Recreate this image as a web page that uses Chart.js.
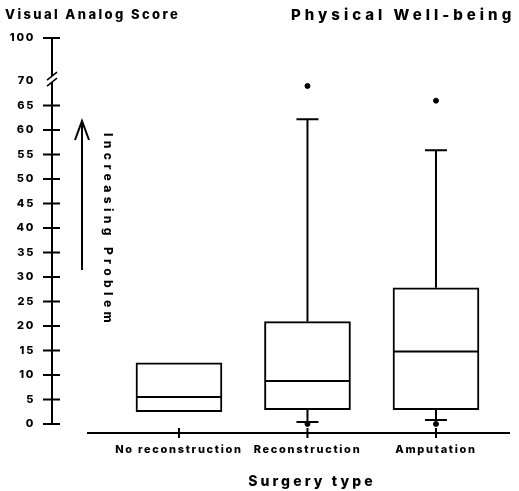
<!DOCTYPE html>
<html><head><meta charset="utf-8">
<script src="https://cdn.jsdelivr.net/npm/chart.js@4"></script>
<style>html,body{margin:0;padding:0;background:#fff;overflow:hidden}</style>
</head><body>
<canvas id="c" width="519" height="491"></canvas>
<script>
// ---- data ----
const CATEGORIES = ['No reconstruction', 'Reconstruction', 'Amputation'];
const Q1 = [2.5, 2.9, 2.9];
const MEDIAN = [5.5, 8.8, 14.8];
const Q3 = [12.5, 20.9, 27.8];
const WHISKER_LOW = [null, 0.4, 0.8];
const WHISKER_HIGH = [null, 62.2, 55.9];
const OUTLIERS = [[], [69, 0], [66, 0]];
const Y_TICKS = [0, 5, 10, 15, 20, 25, 30, 35, 40, 45, 50, 55, 60, 65, 70, 100];
const Y_BREAK = 70;
const Y_MAX = 100;
const BREAK_RATIO = 0.293; // compression of 70-100 segment

const disp = v => v <= Y_BREAK ? v : Y_BREAK + (v - Y_BREAK) * BREAK_RATIO;
const FONT = "Inter, 'Liberation Sans', Arial, sans-serif";
const W = '800';

const boxData = CATEGORIES.map((c, i) => ({x: i, y: [Q1[i], Q3[i]]}));
const outlierData = [];
OUTLIERS.forEach((arr, i) => arr.forEach(v => outlierData.push({x: i, y: disp(v)})));

function spacedText(ctx, text, x, y, spacing) {
  ctx.letterSpacing = spacing + 'px';
  ctx.fillText(text, x, y);
}

const decor = {
  id: 'decor',
  beforeDraw(chart) { chart.ctx.letterSpacing = '1.7px'; },
  afterDatasetsDraw(chart) {
    const {ctx, scales: {x, y}} = chart;
    ctx.save();
    ctx.strokeStyle = '#000';
    ctx.lineWidth = 2;
    CATEGORIES.forEach((c, i) => {
      const cx = x.getPixelForValue(i);
      const half = 42;
      const my = y.getPixelForValue(MEDIAN[i]);
      ctx.beginPath(); ctx.moveTo(cx - half, my); ctx.lineTo(cx + half, my); ctx.stroke();
      const cap = 11;
      if (WHISKER_HIGH[i] != null) {
        const t = y.getPixelForValue(Q3[i]), w = y.getPixelForValue(WHISKER_HIGH[i]);
        ctx.beginPath(); ctx.moveTo(cx, t); ctx.lineTo(cx, w);
        ctx.moveTo(cx - cap, w); ctx.lineTo(cx + cap, w); ctx.stroke();
      }
      if (WHISKER_LOW[i] != null) {
        const b = y.getPixelForValue(Q1[i]), w = y.getPixelForValue(WHISKER_LOW[i]);
        ctx.beginPath(); ctx.moveTo(cx, b); ctx.lineTo(cx, w);
        ctx.moveTo(cx - cap, w); ctx.lineTo(cx + cap, w); ctx.stroke();
      }
    });
    ctx.restore();
  },
  afterDraw(chart) {
    const {ctx, chartArea, scales: {x, y}} = chart;
    ctx.save();
    ctx.strokeStyle = '#000';
    ctx.fillStyle = '#000';
    ctx.lineWidth = 2;
    const ax = chartArea.left;
    const yTop = y.getPixelForValue(disp(Y_MAX));
    const y0 = y.getPixelForValue(0);
    const yb = y.getPixelForValue(disp(Y_BREAK)) - 2;
    ctx.beginPath();
    ctx.moveTo(ax, yTop); ctx.lineTo(ax, yb - 3);
    ctx.moveTo(ax, yb + 3); ctx.lineTo(ax, y0);
    ctx.stroke();
    ctx.lineWidth = 1.5;
    ctx.beginPath();
    ctx.moveTo(ax - 5, yb + 1); ctx.lineTo(ax + 5, yb - 7);
    ctx.moveTo(ax - 5, yb + 7); ctx.lineTo(ax + 5, yb - 1);
    ctx.stroke();
    ctx.lineWidth = 2;
    ctx.beginPath();
    Y_TICKS.forEach(v => {
      if (v === Y_BREAK) return;
      const py = y.getPixelForValue(disp(v));
      ctx.moveTo(ax - 9, py); ctx.lineTo(ax + 8, py);
    });
    ctx.stroke();
    const bx = chartArea.bottom;
    ctx.beginPath();
    ctx.moveTo(chartArea.left + 35, bx); ctx.lineTo(chartArea.right, bx);
    CATEGORIES.forEach((c, i) => {
      const px = x.getPixelForValue(i);
      ctx.moveTo(px, bx - 5); ctx.lineTo(px, bx + 5);
    });
    ctx.stroke();
    // arrow
    ctx.beginPath();
    ctx.moveTo(82, 270); ctx.lineTo(82, 121);
    ctx.moveTo(75, 140); ctx.lineTo(82, 121); ctx.lineTo(89, 140);
    ctx.stroke();
    // titles
    ctx.textBaseline = 'alphabetic';
    ctx.textAlign = 'left';
    ctx.font = W + ' 13px ' + FONT;
    spacedText(ctx, 'Visual Analog Score', 5, 19, 2.4);
    ctx.font = W + ' 15px ' + FONT;
    spacedText(ctx, 'Physical Well-being', 291, 20, 4.0);
    ctx.font = W + ' 14px ' + FONT;
    ctx.textAlign = 'center';
    spacedText(ctx, 'Surgery type', 312, 486, 3.1);
    ctx.save();
    ctx.translate(104, 133);
    ctx.rotate(Math.PI / 2);
    ctx.textAlign = 'left';
    ctx.textBaseline = 'alphabetic';
    ctx.font = W + ' 12px ' + FONT;
    spacedText(ctx, 'Increasing Problem', 0, 0, 4.4);
    ctx.restore();
    ctx.restore();
  }
};

new Chart(document.getElementById('c'), {
  type: 'bar',
  data: {
    datasets: [
      {
        type: 'bar',
        data: boxData,
        backgroundColor: '#fff',
        borderColor: '#000',
        borderWidth: 2,
        borderSkipped: false,
        barThickness: 86
      },
      {
        type: 'scatter',
        data: outlierData,
        backgroundColor: '#000',
        borderColor: '#000',
        pointRadius: 2.5,
        pointHoverRadius: 2.5
      }
    ]
  },
  options: {
    responsive: false,
    animation: false,
    events: [],
    layout: {padding: {top: 38, right: 9, left: 0, bottom: 0}},
    plugins: {legend: {display: false}, tooltip: {enabled: false}, title: {display: false}},
    scales: {
      x: {
        type: 'linear',
        min: -0.988,
        max: 2.576,
        offset: false,
        grid: {display: false, drawTicks: false},
        border: {display: false},
        afterBuildTicks: s => { s.ticks = CATEGORIES.map((c, i) => ({value: i})); },
        afterFit: s => { s.height = 58; },
        ticks: {
          autoSkip: false, maxRotation: 0, padding: 10,
          color: '#000',
          font: {family: FONT, size: 11, weight: W},
          callback: v => CATEGORIES[v]
        }
      },
      y: {
        type: 'linear',
        min: -1.84,
        max: disp(Y_MAX),
        grid: {display: false, drawTicks: false},
        border: {display: false},
        afterBuildTicks: s => { s.ticks = Y_TICKS.map(v => ({value: disp(v)})); },
        afterFit: s => { s.width = 52; },
        ticks: {
          autoSkip: false, padding: 17,
          color: '#000',
          font: {family: FONT, size: 11, weight: W},
          callback: (v, i) => String(Y_TICKS[i])
        }
      }
    }
  },
  plugins: [decor]
});
</script>
</body></html>
